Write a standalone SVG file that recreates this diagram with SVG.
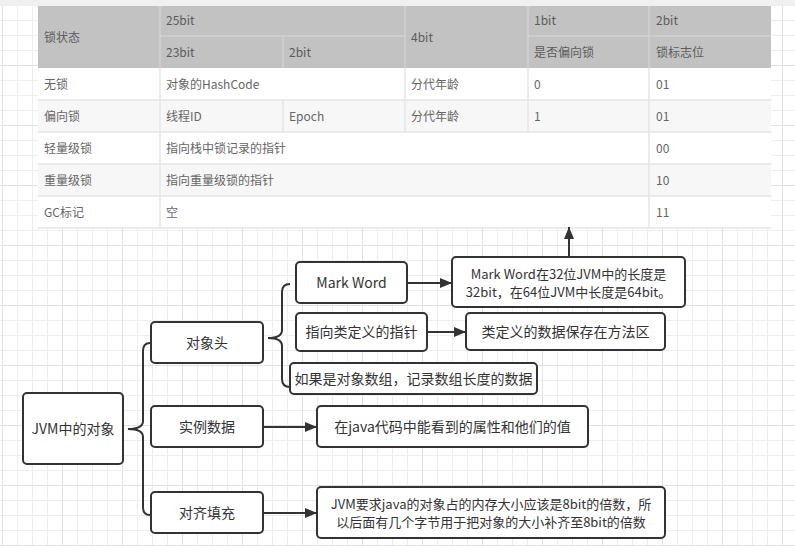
<svg xmlns="http://www.w3.org/2000/svg" width="795" height="546" viewBox="0 0 795 546">
<defs>
<pattern id="minor" patternUnits="userSpaceOnUse" x="2" y="5" width="15" height="15">
<path d="M0.5 0 V15 M0 0.5 H15" fill="none" stroke="#eeeeee" stroke-width="1"/>
</pattern>
<pattern id="major" patternUnits="userSpaceOnUse" x="2" y="5" width="60" height="60">
<path d="M0.5 0 V60 M0 0.5 H60" fill="none" stroke="#e2e2e2" stroke-width="1"/>
</pattern>
<marker id="arr" viewBox="0 0 12 10" refX="12" refY="5" markerWidth="12" markerHeight="10" markerUnits="userSpaceOnUse" orient="auto">
<path d="M0 0 L12 5 L0 10 Z" fill="#333333"/>
</marker>
<style>
.t{font-family:"Noto Sans CJK SC","Liberation Sans",sans-serif;font-size:12px;fill:#666666}
.h{fill:#5c5c5c}
.n{fill:#ffffff;stroke:#333333;stroke-width:2}
.nt{font-family:"Noto Sans CJK SC","Liberation Sans",sans-serif;font-size:14px;fill:#333333;text-anchor:middle}
.sm{font-size:13px}
.c{fill:none;stroke:#333333;stroke-width:2}
.hs{stroke:#d8d8d8;stroke-width:1;fill:none}
.bs{stroke:#e6e6e6;stroke-width:1.5;fill:none}
</style>
</defs>
<rect width="795" height="546" fill="#ffffff"/>
<rect width="795" height="546" fill="url(#minor)"/>
<rect width="795" height="546" fill="url(#major)"/>
<rect x="0" y="0" width="795" height="6" fill="#f0f0f0"/>

<g id="table">
<rect x="38" y="6" width="733" height="62" fill="#c2c2c2"/>
<rect x="38" y="68" width="733" height="32" fill="#ffffff"/>
<rect x="38" y="100" width="733" height="32" fill="#f7f7f7"/>
<rect x="38" y="132" width="733" height="32" fill="#ffffff"/>
<rect x="38" y="164" width="733" height="32" fill="#f7f7f7"/>
<rect x="38" y="196" width="733" height="32" fill="#ffffff"/>
<path class="hs" d="M160 6 V68 M405 6 V68 M528 6 V68 M649 6 V68 M283 36 V68 M160 36 H405 M528 36 H771"/>
<path class="bs" d="M38 100 H771 M38 132 H771 M38 164 H771 M38 196 H771 M38 228 H771 M160 68 V228 M649 68 V228 M405 68 V132 M528 68 V132 M283 100 V132"/>
<text class="t h" x="44" y="41.5">锁状态</text>
<text class="t h" x="166" y="25">25bit</text>
<text class="t h" x="411" y="41.5">4bit</text>
<text class="t h" x="534" y="25">1bit</text>
<text class="t h" x="656" y="25">2bit</text>
<text class="t h" x="166" y="56.5">23bit</text>
<text class="t h" x="289" y="56.5">2bit</text>
<text class="t h" x="534" y="56.5">是否偏向锁</text>
<text class="t h" x="656" y="56.5">锁标志位</text>
<text class="t" x="44" y="88.5">无锁</text>
<text class="t" x="166" y="88.5">对象的HashCode</text>
<text class="t" x="411" y="88.5">分代年龄</text>
<text class="t" x="534" y="88.5">0</text>
<text class="t" x="656" y="88.5">01</text>
<text class="t" x="44" y="120.5">偏向锁</text>
<text class="t" x="166" y="120.5">线程ID</text>
<text class="t" x="289" y="120.5">Epoch</text>
<text class="t" x="411" y="120.5">分代年龄</text>
<text class="t" x="534" y="120.5">1</text>
<text class="t" x="656" y="120.5">01</text>
<text class="t" x="44" y="152.5">轻量级锁</text>
<text class="t" x="166" y="152.5">指向栈中锁记录的指针</text>
<text class="t" x="656" y="152.5">00</text>
<text class="t" x="44" y="184.5">重量级锁</text>
<text class="t" x="166" y="184.5">指向重量级锁的指针</text>
<text class="t" x="656" y="184.5">10</text>
<text class="t" x="44" y="216.5">GC标记</text>
<text class="t" x="166" y="216.5">空</text>
<text class="t" x="656" y="216.5">11</text>
</g>

<g id="connectors">
<path class="c" d="M150 343 Q143 343 143 351 V421 Q143 429 128 429 Q143 429 143 437 V507 Q143 515 150 515"/>
<path class="c" d="M290 284 Q282 284 282 292 V330 Q282 338 268 338 Q282 338 282 346 V379 Q282 387 290 387"/>
<line class="c" x1="407" y1="283" x2="452" y2="283" marker-end="url(#arr)"/>
<line class="c" x1="427" y1="332" x2="466" y2="332" marker-end="url(#arr)"/>
<line class="c" x1="263" y1="427" x2="317" y2="427" marker-end="url(#arr)"/>
<line class="c" x1="263" y1="513" x2="317" y2="513" marker-end="url(#arr)"/>
<line class="c" x1="569" y1="257" x2="569" y2="227" marker-end="url(#arr)"/>
</g>

<g id="jvm">
<rect class="n" x="23" y="393" width="100" height="71" rx="4"/>
<text class="nt" x="73" y="434">JVM中的对象</text>
</g>
<g id="header">
<rect class="n" x="151" y="322" width="112" height="41" rx="4"/>
<text class="nt" x="207" y="348">对象头</text>
</g>
<g id="instance">
<rect class="n" x="151" y="406" width="112" height="41" rx="4"/>
<text class="nt" x="207" y="432">实例数据</text>
</g>
<g id="padding">
<rect class="n" x="151" y="492" width="112" height="41" rx="4"/>
<text class="nt" x="207" y="518">对齐填充</text>
</g>
<g id="markword">
<rect class="n" x="296" y="262" width="111" height="41" rx="4"/>
<text class="nt" x="351.5" y="288">Mark Word</text>
</g>
<g id="classptr">
<rect class="n" x="296" y="313" width="131" height="38" rx="4"/>
<text class="nt" x="361.5" y="337">指向类定义的指针</text>
</g>
<g id="arraylen">
<rect class="n" x="290" y="363" width="247" height="31" rx="4"/>
<text class="nt" x="413.5" y="383.5">如果是对象数组，记录数组长度的数据</text>
</g>
<g id="markdesc">
<rect class="n" x="452" y="257" width="233" height="50" rx="4"/>
<text class="nt sm" x="568.5" y="279">Mark Word在32位JVM中的长度是</text>
<text class="nt sm" x="568.5" y="297">32bit，在64位JVM中长度是64bit。</text>
</g>
<g id="classdesc">
<rect class="n" x="466" y="313" width="199" height="37" rx="4"/>
<text class="nt" x="565.5" y="336.5">类定义的数据保存在方法区</text>
</g>
<g id="instdesc">
<rect class="n" x="317" y="406" width="271" height="41" rx="4"/>
<text class="nt" x="452.5" y="432">在java代码中能看到的属性和他们的值</text>
</g>
<g id="paddesc">
<rect class="n" x="317" y="487" width="348" height="51" rx="4"/>
<text class="nt sm" x="491" y="509">JVM要求java的对象占的内存大小应该是8bit的倍数，所</text>
<text class="nt sm" x="491" y="527">以后面有几个字节用于把对象的大小补齐至8bit的倍数</text>
</g>
</svg>
